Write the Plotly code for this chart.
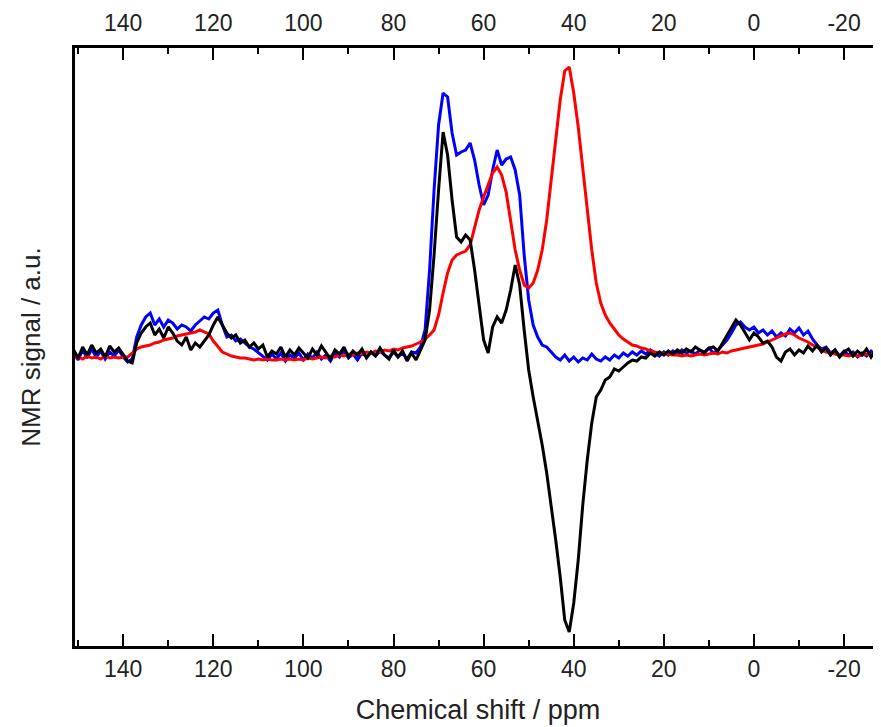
import plotly.graph_objects as go

# chemical shift grid, ppm (high to low, 1 ppm step)
ppm = list(range(151, -30, -1))

# NMR signal, arbitrary units (baseline = 0)
blue_signal = [
    2, -5, 5, -3, 6, -2, 4, -4, 3, -1,            # 151..142
    5, -2, -7, -4, 18, 30, 38, 42, 30, 36,        # 141..132
    28, 35, 32, 26, 30, 28, 24, 30, 34, 38,       # 131..122
    36, 42, 45, 30, 18, 20, 14, 16, 12, 8,        # 121..112
    6, 2, -2, -5, 1, -4, 2, -6, 0, -3,            # 111..102
    2, -5, 1, -3, 3, -4, 0, -6, 2, -2,            # 101..92
    4, -3, 1, -5, 2, -2, 3, -1, 4, 0,             # 91..82
    -3, 3, -2, 2, -4, 3, 2, 8, 25, 85,            # 81..72
    165, 230, 262, 258, 222, 200, 203, 205, 212, 195,  # 71..62
    170, 150, 160, 185, 205, 190, 196, 198, 185, 160,  # 61..52
    100, 55, 30, 18, 10, 8, 3, -2, -5, 0,         # 51..42
    -6, -2, -7, -3, -5, 1, -4, -6, -2, -5,        # 41..32
    0, -3, 2, -1, 3, 0, 4, 1, 5, 2,               # 31..22
    -1, 3, 0, 4, 1, 5, 2, 4, 1, 5,                # 21..12
    3, 7, 2, 5, 10, 15, 22, 30, 33, 28,           # 11..2
    25, 28, 22, 25, 20, 24, 18, 22, 19, 26,       # 1..-8
    22, 27, 20, 24, 16, 10, 6, 8, 2, 5,           # -9..-18
    -1, 4, 0, 3, -2, 2, -1, 4, 0, 3,              # -19..-28
    -1,                                           # -29
]

red_signal = [
    -3, -2, -4, -1, -3, -2, -4, -1, -3, -2,
    -3, -2, -2, 2, 6, 8, 9, 10, 12, 13,
    15, 16, 17, 19, 20, 21, 22, 23, 25, 23,
    21, 14, 8, 3, 1, -1, -2, -3, -3, -4,
    -5, -4, -5, -4, -5, -5, -4, -5, -4, -5,
    -4, -5, -3, -4, -3, -2, -3, -1, -2, 0,
    -1, 1, 0, 2, 1, 3, 2, 4, 3, 5,
    4, 6, 5, 7, 8, 9, 11, 13, 16, 20,
    25, 40, 62, 82, 95, 100, 102, 104, 110, 128,
    145, 158, 170, 182, 188, 180, 163, 132, 105, 85,
    70, 67, 72, 85, 105, 135, 172, 215, 255, 284,
    288, 262, 228, 188, 145, 105, 72, 52, 40, 32,
    26, 20, 16, 13, 10, 9, 7, 6, 4, 3,
    2, 1, 1, 0, 0, -1, 0, -1, 0, 1,
    0, 1, 2, 1, 3, 2, 4, 5, 6, 7,
    8, 9, 10, 11, 13, 15, 17, 19, 21, 22,
    20, 17, 15, 13, 10, 8, 5, 3, 2, 1,
    0, 0, -1, 0, -1, 0, 1, 0, -1, 0,
    0,
]

black_signal = [
    5, -3, 8, 0, 10, 2, 6, -2, 9, 3,
    7, 0, -6, -8, 12, 22, 28, 32, 20, 26,
    17, 28, 22, 14, 10, 18, 5, 12, 8, 14,
    20, 30, 38, 30, 22, 17, 20, 12, 15, 8,
    12, 6, 10, -2, 4, 1, 8, -2, 5, 0,
    7, 2, -3, 6, 0, 9, 2, -4, 5, 1,
    8, -2, 4, 0, 6, -3, 3, -1, 7, 0,
    -4, 5, -2, 4, -6, 2, -5, 6, 15, 45,
    100, 165, 223, 200, 155, 118, 113, 120, 115, 85,
    50, 15, 2, 28, 38, 32, 45, 65, 90, 70,
    25, -15, -42, -65, -90, -118, -150, -185, -222, -265,
    -277, -248, -205, -150, -105, -68, -42, -35, -25, -22,
    -14, -16, -12, -8, -5, -6, -2, -3, 2, -1,
    3, 0, 4, 1, 5, 2, 6, 3, 8, 5,
    2, 7, 8, 4, 12, 20, 28, 35, 30, 22,
    15, 22, 18, 12, 14, 8, -2, -6, 3, 6,
    0, 5, 2, 9, 4, 10, 3, 7, 0, 5,
    -2, 3, 6, -1, 4, 0, 6, -2, 5, 1,
    3,
]

tick_ppm = [140, 120, 100, 80, 60, 40, 20, 0, -20]
tick_text = ["140", "120", "100", "80", "60", "40", "20", "0", "-20"]

FONT = "Liberation Sans, Arial, sans-serif"

fig = go.Figure()
fig.add_trace(go.Scatter(x=ppm, y=blue_signal, mode="lines", line=dict(color="#0000ff", width=3)))
fig.add_trace(go.Scatter(x=ppm, y=red_signal, mode="lines", line=dict(color="#ff0000", width=3)))
fig.add_trace(go.Scatter(x=ppm, y=black_signal, mode="lines", line=dict(color="#000000", width=3)))
# dummy trace so the top axis gets drawn
fig.add_trace(go.Scatter(x=[ppm[0]], y=[0], xaxis="x2", mode="markers",
                         marker=dict(opacity=0), hoverinfo="skip"))

axis_common = dict(
    range=[150.7, -28.2], tickvals=tick_ppm, ticktext=tick_text,
    ticks="inside", ticklen=12, tickwidth=2,
    tickcolor="black", showline=True, linewidth=3, linecolor="black",
    showgrid=False, zeroline=False, tickfont=dict(size=23, color="#222"),
    minor=dict(ticks="inside", ticklen=6, tickwidth=2, dtick=10, tickcolor="black"),
    automargin=False,
)

# page body adds an 8px offset, so the figure is 8px smaller than the window
fig.update_layout(
    width=873, height=719,
    margin=dict(l=67, r=0, t=40, b=81),
    paper_bgcolor="white", plot_bgcolor="white",
    showlegend=False,
    font=dict(family=FONT, color="#222"),
    xaxis=dict(**axis_common,
               title=dict(text="Chemical shift / ppm", font=dict(size=27, color="#222"), standoff=20)),
    xaxis2=dict(**axis_common, overlaying="x", side="top", matches="x", ticklabelstandoff=5),
    yaxis=dict(range=[-291, 307], showticklabels=False, ticks="", showline=True,
               linewidth=3, linecolor="black", showgrid=False, zeroline=False, automargin=False,
               title=dict(text="NMR signal / a.u.", font=dict(size=26, color="#222"), standoff=24)),
)

fig.write_html("out.html")
